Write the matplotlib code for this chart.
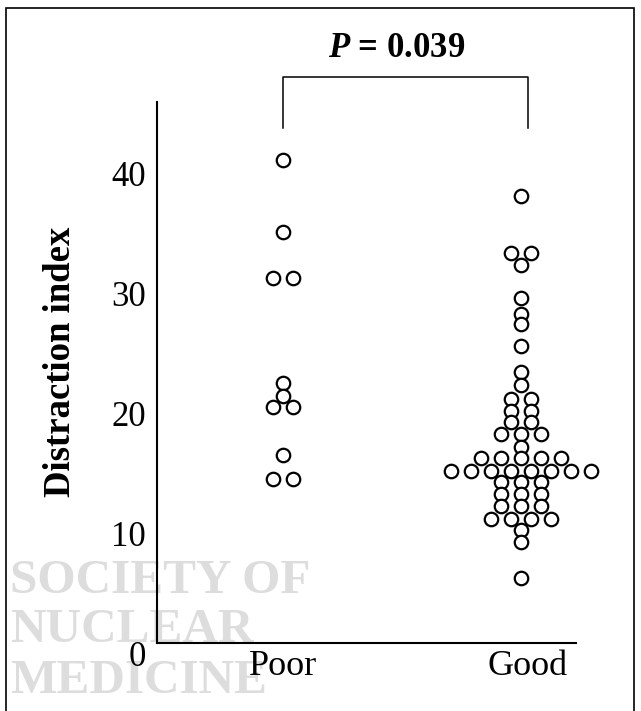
import numpy as np
import matplotlib.pyplot as plt
from matplotlib.patches import Rectangle
from matplotlib.transforms import ScaledTranslation

plt.rcParams['font.family'] = ['Liberation Serif', 'DejaVu Serif']
plt.rcParams['mathtext.fontset'] = 'custom'
plt.rcParams['mathtext.it'] = 'Liberation Serif:italic:bold'
plt.rcParams['mathtext.rm'] = 'Liberation Serif:bold'

# Distraction index per patient
groups = ['Poor', 'Good']
poor = [40.8, 34.8, 31.0, 31.0, 22.3, 21.2, 20.3, 20.3, 16.3, 14.3, 14.3]
good = [37.8, 33.1, 33.1, 32.1, 29.3, 28.0, 27.2, 25.3, 23.2, 22.1,
        20.9, 20.9, 19.9, 19.9, 19.0, 19.0, 18.0, 18.0, 18.0, 16.9,
        16.0, 16.0, 16.0, 16.0, 16.0,
        14.9, 14.9, 14.9, 14.9, 14.9, 14.9, 14.9, 14.9,
        14.0, 14.0, 14.0, 13.0, 13.0, 13.0, 12.0, 12.0, 12.0,
        10.9, 10.9, 10.9, 10.9, 10.0, 9.0, 6.0]
yticks = [0, 10, 20, 30, 40]
p_text = r'$P$ = 0.039'


def swarm_offsets(vals, step):
    # equal values are laid out side by side, centred on the column
    vals = np.asarray(vals)
    off = np.zeros(len(vals))
    for v in np.unique(vals):
        idx = np.where(vals == v)[0]
        off[idx] = (np.arange(len(idx)) - (len(idx) - 1) / 2) * step
    return off


fig = plt.figure(figsize=(6.41, 7.11), dpi=100)
ax = fig.add_axes([0.2449, 0.0856, 0.6537, 0.7709])
ax.patch.set_alpha(0)

# axis lines first (set_position rebuilds the ticks)
for s in ['top', 'right']:
    ax.spines[s].set_visible(False)
ax.spines['bottom'].set_position(('data', 0.58))
ax.spines['left'].set_bounds(0.58, 45.67)
for s in ['left', 'bottom']:
    ax.spines[s].set_linewidth(1.5)

step = 0.0816
centres = [1.0, 1.97]
for vals, cx in zip([poor, good], centres):
    ax.plot(cx + swarm_offsets(vals, step), vals, 'o', ms=9.7,
            mfc='white', mec='black', mew=1.6, clip_on=False, zorder=3)

ax.set_xlim(0.4857, 2.1959)
ax.set_ylim(0, 45.67)
ax.set_xticks([1, 2])
ax.set_xticklabels(groups, fontsize=26)
ax.set_yticks(yticks)
ax.set_yticklabels([str(t) for t in yticks], fontsize=25)
ax.tick_params(axis='both', length=0)
ax.tick_params(axis='x', pad=5)
ax.tick_params(axis='y', pad=8)
ax.set_ylabel('Distraction index', fontsize=26.5, fontweight='bold')
ax.yaxis.set_label_coords(-0.1895, 0.5265)

# labels sit a little below their tick values in the original
shift = ScaledTranslation(0, -0.03, fig.dpi_scale_trans)
for lab in ax.get_yticklabels():
    lab.set_transform(lab.get_transform() + shift)

# significance bracket
ax.plot([1, 1, 2, 2], [43.5, 47.75, 47.75, 43.5], color='black', lw=1.1,
        clip_on=False)
ax.text(1.465, 49.4, p_text, fontsize=25, fontweight='bold',
        ha='center', va='baseline')

# watermark
for txt, y in [('SOCIETY OF', 593), ('NUCLEAR', 642), ('MEDICINE', 693)]:
    fig.text(10 / 641, 1 - y / 711, txt, fontsize=35.5, fontweight='bold',
             color='#dddddd', ha='left', va='baseline', zorder=-5)

# frame around the figure
fig.add_artist(Rectangle((6 / 641, -0.02), 628 / 641, 1.02 - 8 / 711,
                         transform=fig.transFigure, fill=False,
                         edgecolor='black', lw=1.2))

fig.savefig('out.png', dpi=100)
